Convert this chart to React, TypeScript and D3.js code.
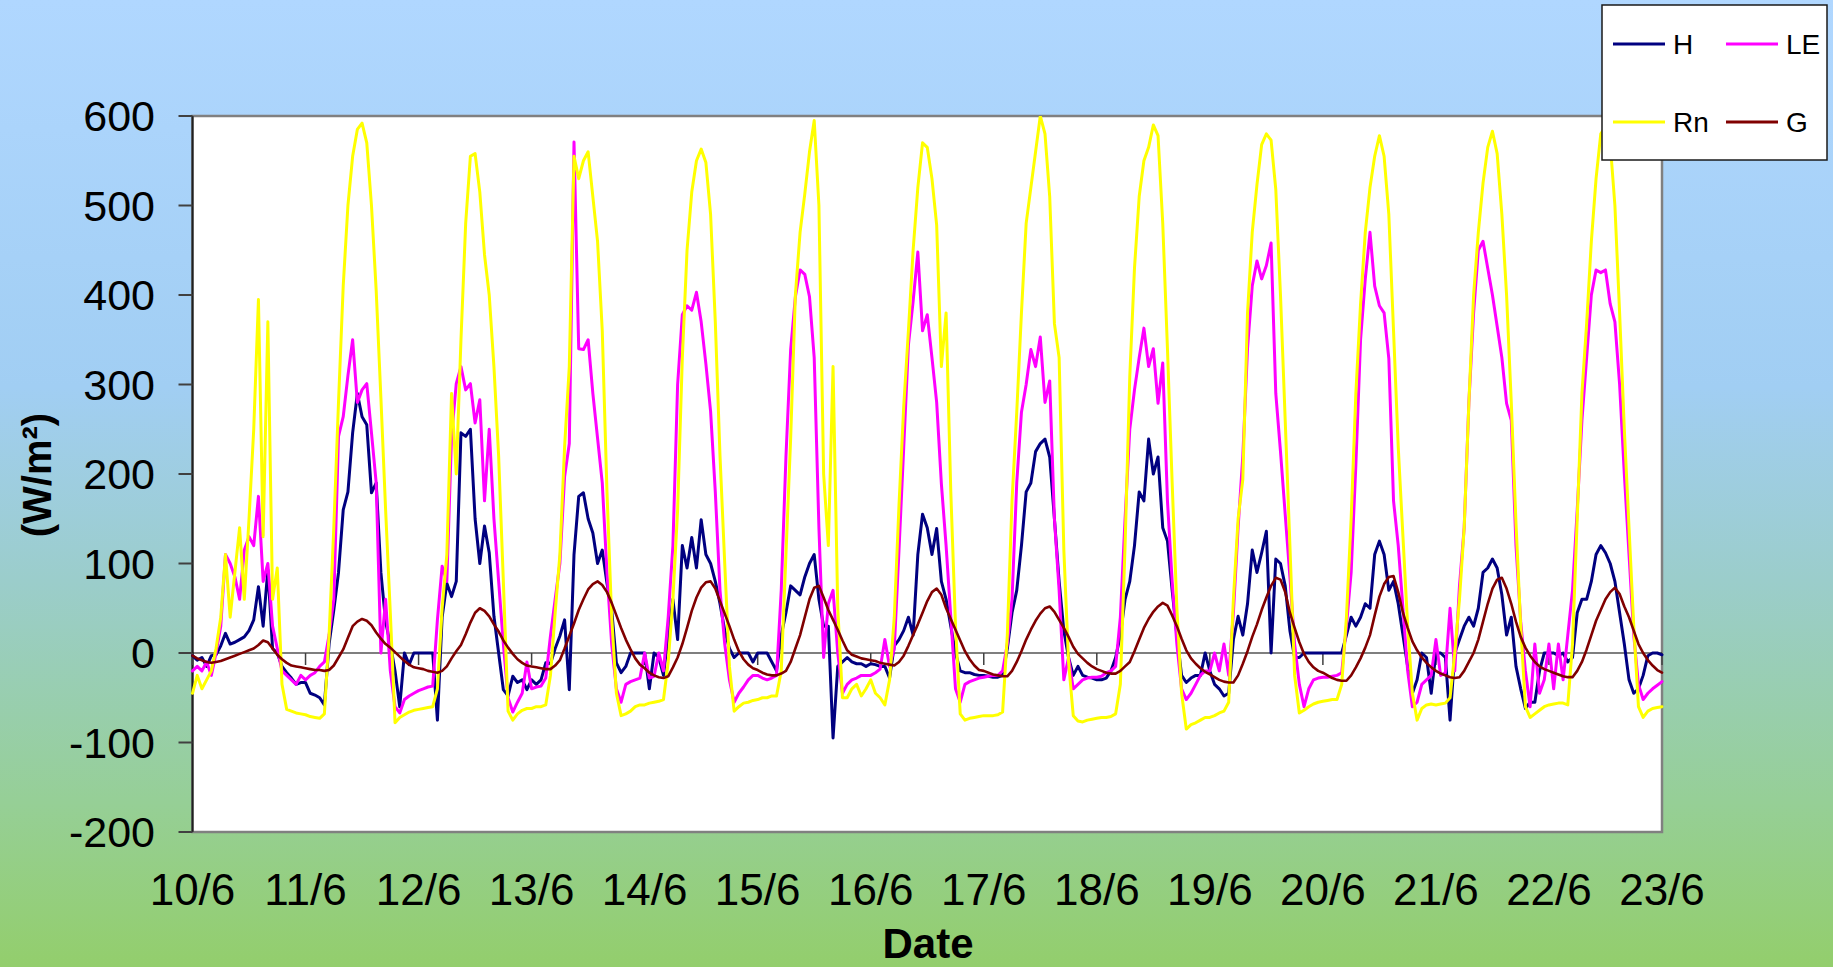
import React from "react";
import * as d3 from "d3";

// Day labels on the category axis (one per day boundary)
const DATE_LABELS = ["10/6", "11/6", "12/6", "13/6", "14/6", "15/6", "16/6", "17/6", "18/6", "19/6", "20/6", "21/6", "22/6", "23/6"];
const Y_TICKS = [-200, -100, 0, 100, 200, 300, 400, 500, 600];
const SERIES_NAMES = ["H", "LE", "Rn", "G"];

// Hourly values (W/m²), one row per day, plus the closing value at 23/6 00:00
const RN_DAYS = [
  [-45, -25, -40, -30, -20, 5, 40, 110, 40, 90, 140, 60, 150, 250, 395, 130, 370, 60, 95, -35, -63, -65, -67, -68],
  [-69, -71, -72, -73, -68, 20, 140, 280, 410, 500, 555, 585, 592, 570, 500, 405, 285, 160, 45, -78, -72, -69, -66, -64],
  [-63, -62, -61, -60, -40, 50, 110, 290, 200, 350, 480, 555, 558, 515, 445, 400, 320, 220, 80, -65, -75, -68, -64, -62],
  [-62, -60, -60, -58, -25, 45, 110, 230, 320, 555, 530, 550, 560, 510, 460, 360, 180, 40, -45, -70, -68, -65, -60, -58],
  [-58, -56, -55, -54, -52, -10, 60, 160, 330, 450, 515, 550, 563, 548, 490, 370, 220, 100, -15, -65, -60, -56, -55, -53],
  [-52, -50, -50, -48, -48, -20, 110, 240, 400, 470, 513, 560, 595, 500, 200, 120, 320, 50, -50, -50, -40, -35, -48, -40],
  [-30, -45, -50, -58, -30, 40, 165, 275, 360, 450, 520, 570, 565, 530, 478, 320, 380, 180, 30, -68, -75, -73, -72, -71],
  [-70, -70, -70, -69, -66, 20, 170, 269, 380, 480, 520, 560, 600, 580, 510, 368, 330, 115, -10, -70, -76, -77, -75, -74],
  [-73, -72, -72, -71, -68, -35, 120, 309, 430, 510, 550, 565, 590, 578, 480, 340, 190, 50, -45, -85, -80, -78, -75, -72],
  [-72, -70, -67, -65, -55, 60, 150, 194, 380, 470, 523, 568, 580, 573, 518, 400, 260, 120, -25, -67, -64, -60, -57, -55],
  [-54, -53, -52, -52, -35, 40, 150, 290, 390, 470, 520, 555, 578, 555, 490, 360, 230, 130, 30, -45, -75, -62, -58, -57],
  [-58, -57, -56, -50, 0, 60, 140, 280, 400, 470, 525, 565, 583, 558, 490, 400, 280, 145, 30, -60, -72, -68, -64, -60],
  [-58, -57, -56, -56, -58, 10, 150, 290, 368, 460, 530, 580, 588, 570, 500, 380, 250, 140, 30, -60, -72, -65, -62, -61],
];
const RN_LAST = -60;

const LE_DAYS = [
  [-20, -15, -20, -10, -25, 0, 30, 110, 100, 85, 60, 115, 130, 120, 175, 80, 100, 30, 5, -20, -25, -30, -35, -25],
  [-30, -25, -22, -15, -10, 20, 60, 242, 264, 310, 350, 280, 294, 301, 246, 190, 0, 60, -20, -60, -67, -52, -48, -45],
  [-42, -40, -38, -37, 37, 97, 80, 242, 301, 320, 294, 301, 257, 283, 170, 250, 150, 80, 10, -50, -66, -55, -45, -10],
  [-40, -38, -37, -28, 19, 60, 100, 197, 234, 571, 340, 339, 350, 290, 240, 190, 90, 10, -40, -55, -35, -32, -30, -28],
  [0, -28, -26, 0, -20, 40, 120, 300, 378, 388, 383, 403, 370, 323, 270, 180, 70, 10, -30, -55, -45, -38, -30, -25],
  [-25, -28, -30, -28, -25, 70, 219, 339, 398, 428, 423, 398, 330, 140, -5, 55, 70, 0, -45, -35, -30, -28, -25, -25],
  [-25, -22, -18, 15, -15, 5, 115, 229, 344, 393, 448, 360, 378, 330, 280, 189, 120, 40, -40, -55, -35, -32, -30, -28],
  [-27, -26, -25, -25, -20, 10, 60, 190, 269, 300, 339, 320, 353, 280, 304, 150, 70, -30, -5, -40, -35, -30, -28, -27],
  [-27, -26, -22, -20, -15, 40, 150, 250, 294, 330, 363, 320, 340, 279, 324, 170, 80, 10, -40, -52, -45, -35, -25, -20],
  [-20, 0, -20, 10, -25, 45, 140, 220, 340, 410, 438, 418, 433, 458, 290, 225, 155, 85, 10, -35, -60, -40, -30, -28],
  [-27, -27, -26, -25, -22, 30, 90, 210, 350, 418, 470, 410, 388, 380, 329, 170, 120, 50, -20, -60, -55, -35, -30, -25],
  [15, -25, -22, 50, -20, 75, 140, 280, 380, 450, 460, 430, 400, 365, 330, 279, 260, 120, 35, -20, -60, 10, -45, -30],
  [10, -40, 10, -30, 20, 70, 160, 260, 330, 400, 428, 425, 428, 390, 370, 300, 200, 110, 20, -35, -52, -45, -40, -36],
];
const LE_LAST = -32;

const H_DAYS = [
  [-3, -8, -5, -15, -3, -2, 8, 22, 10, 12, 15, 18, 25, 37, 74, 30, 93, 5, 0, -15, -22, -28, -35, -33],
  [-33, -45, -47, -50, -58, 10, 48, 90, 160, 180, 246, 290, 264, 255, 179, 190, 90, 35, 10, -20, -60, 0, -13, 0],
  [0, 0, 0, 0, -75, 40, 78, 63, 80, 246, 242, 250, 150, 100, 142, 112, 41, 0, -41, -48, -26, -33, -30, -41],
  [-30, -35, -30, -11, -12, 5, 19, 37, -41, 110, 175, 179, 150, 134, 100, 115, 78, 48, -11, -22, -15, 0, 0, 0],
  [0, -40, 0, -5, -25, 20, 60, 15, 120, 95, 129, 95, 149, 110, 100, 80, 55, 25, 5, -5, 0, 0, 0, -10],
  [0, 0, 0, -10, -20, 20, 45, 75, 70, 65, 85, 100, 110, 60, 30, 30, -95, -15, -10, -5, -10, -12, -12, -15],
  [-12, -13, -15, -15, -28, 8, 15, 25, 40, 20, 110, 155, 140, 110, 139, 80, 60, 30, 0, -20, -22, -22, -24, -25],
  [-25, -26, -27, -27, -25, 5, 45, 70, 120, 180, 190, 225, 234, 239, 219, 150, 80, 25, -5, -25, -15, -25, -27, -28],
  [-30, -30, -28, -20, -5, 20, 60, 80, 120, 180, 170, 239, 200, 219, 140, 125, 70, 20, -25, -33, -28, -25, -25, 0],
  [-20, -35, -40, -48, -45, 15, 41, 20, 55, 115, 90, 112, 136, 0, 105, 100, 75, 25, -5, -5, 0, 0, 0, 0],
  [0, 0, 0, 0, 0, 20, 40, 30, 40, 55, 50, 110, 125, 110, 70, 80, 55, 20, -15, -45, -30, 0, -5, -45],
  [0, 0, -5, -75, 0, 15, 30, 40, 30, 50, 90, 95, 105, 95, 65, 20, 40, -15, -40, -62, -55, -55, -20, 0],
  [0, 0, -3, 0, -10, -5, 45, 60, 60, 80, 110, 120, 112, 100, 80, 45, 10, -30, -45, -40, -25, -3, 0, 0],
];
const H_LAST = -2;

const G_DAYS = [
  [-3, -6, -8, -10, -11, -10, -9, -7, -5, -3, -1, 1, 3, 5, 9, 14, 12, 5, -2, -7, -11, -14, -15, -16],
  [-17, -18, -19, -19, -20, -19, -14, -5, 4, 17, 30, 35, 38, 36, 31, 23, 16, 10, 6, 1, -4, -9, -13, -16],
  [-17, -18, -20, -21, -22, -20, -15, -6, 2, 9, 21, 34, 45, 50, 47, 41, 32, 24, 14, 6, -1, -7, -11, -14],
  [-15, -16, -17, -18, -18, -14, -8, 5, 19, 33, 48, 60, 71, 77, 80, 76, 68, 56, 42, 28, 15, 4, -6, -13],
  [-17, -22, -25, -27, -28, -26, -16, -5, 10, 28, 47, 62, 73, 79, 80, 72, 58, 44, 30, 15, 2, -7, -13, -17],
  [-19, -22, -24, -25, -25, -23, -20, -10, 5, 20, 40, 60, 73, 75, 62, 48, 37, 26, 14, 3, -2, -4, -6, -7],
  [-8, -9, -11, -12, -13, -14, -10, -3, 8, 20, 32, 45, 58, 68, 72, 65, 50, 38, 26, 14, 2, -7, -14, -19],
  [-20, -22, -24, -25, -26, -26, -20, -10, 2, 15, 26, 36, 44, 50, 52, 46, 37, 28, 18, 7, -1, -6, -11, -15],
  [-18, -20, -22, -23, -23, -20, -15, -10, 2, 15, 28, 38, 46, 52, 56, 53, 42, 30, 16, 3, -6, -12, -17, -21],
  [-24, -27, -30, -32, -33, -33, -25, -12, 2, 18, 32, 48, 62, 75, 84, 82, 68, 45, 28, 12, -1, -10, -16, -20],
  [-22, -25, -28, -30, -31, -31, -25, -16, -6, 6, 20, 42, 63, 77, 85, 86, 68, 45, 28, 13, 3, -5, -11, -16],
  [-20, -23, -25, -27, -28, -27, -20, -10, 0, 15, 35, 55, 72, 82, 84, 72, 55, 35, 18, 6, -3, -10, -15, -18],
  [-20, -22, -24, -26, -27, -27, -20, -10, 4, 20, 36, 48, 60, 68, 73, 66, 52, 40, 25, 10, 0, -8, -14, -19],
];
const G_LAST = -22;

const HOURS_PER_DAY = 24;

const W = 1833;
const HGT = 967;
const PLOT = { left: 192.5, right: 1662, top: 116, bottom: 832 };
const FONT = "'Liberation Sans', Arial, Helvetica, sans-serif";
const COLORS: Record<string, string> = { H: "#000080", LE: "#FF00FF", Rn: "#FFFF00", G: "#800000" };

export default function App() {
  const series: Record<string, number[]> = {
    H: [...H_DAYS.flat(), H_LAST],
    LE: [...LE_DAYS.flat(), LE_LAST],
    Rn: [...RN_DAYS.flat(), RN_LAST],
    G: [...G_DAYS.flat(), G_LAST],
  };
  const nHours = (DATE_LABELS.length - 1) * HOURS_PER_DAY;

  const x = d3.scaleLinear().domain([0, nHours]).range([PLOT.left, PLOT.right]);
  const y = d3.scaleLinear().domain([-200, 600]).range([PLOT.bottom, PLOT.top]);
  const line = d3
    .line<number>()
    .x((_, i) => x(i))
    .y((v) => y(v));

  const legendX = 1602;
  const legendY = 5;
  const legendItems = [
    { name: SERIES_NAMES[0], lx: 1613, ly: 44 },
    { name: SERIES_NAMES[1], lx: 1726, ly: 44 },
    { name: SERIES_NAMES[2], lx: 1613, ly: 122 },
    { name: SERIES_NAMES[3], lx: 1726, ly: 122 },
  ];

  return (
    <svg
      width={W}
      height={HGT}
      viewBox={`0 0 ${W} ${HGT}`}
      style={{ position: "fixed", left: 0, top: 0, display: "block" }}
      fontFamily={FONT}
    >
      <defs>
        <linearGradient id="bg" x1="0" y1="0" x2="0" y2="1">
          <stop offset="0%" stopColor="#B0D7FF" />
          <stop offset="40%" stopColor="#A1CEF3" />
          <stop offset="60%" stopColor="#9BCDCB" />
          <stop offset="83%" stopColor="#96CF96" />
          <stop offset="100%" stopColor="#93CE6C" />
        </linearGradient>
        <clipPath id="plotClip">
          <rect x={PLOT.left - 8} y={PLOT.top} width={PLOT.right - PLOT.left + 10} height={PLOT.bottom - PLOT.top} />
        </clipPath>
      </defs>
      <rect x={0} y={0} width={W} height={HGT} fill="url(#bg)" />

      {/* plot area */}
      <rect
        x={PLOT.left}
        y={PLOT.top}
        width={PLOT.right - PLOT.left}
        height={PLOT.bottom - PLOT.top}
        fill="#FFFFFF"
        stroke="#808080"
        strokeWidth={2.5}
      />

      {/* y axis */}
      <line x1={PLOT.left} x2={PLOT.left} y1={PLOT.top} y2={PLOT.bottom} stroke="#202020" strokeWidth={2} />
      {Y_TICKS.map((t) => (
        <g key={t}>
          <line x1={PLOT.left - 14} x2={PLOT.left} y1={y(t)} y2={y(t)} stroke="#404040" strokeWidth={2} />
          <text x={155} y={y(t) + 15} textAnchor="end" fontSize={43} fill="#000">
            {t}
          </text>
        </g>
      ))}

      {/* zero line with day ticks */}
      <line x1={PLOT.left} x2={PLOT.right} y1={y(0)} y2={y(0)} stroke="#000" strokeWidth={1.2} />
      {DATE_LABELS.map((d, i) => (
        <line
          key={"tk" + d}
          x1={x(i * HOURS_PER_DAY)}
          x2={x(i * HOURS_PER_DAY)}
          y1={y(0)}
          y2={y(0) + 12}
          stroke="#404040"
          strokeWidth={1.5}
        />
      ))}

      {/* series */}
      <g clipPath="url(#plotClip)" fill="none" strokeLinejoin="round" strokeLinecap="round">
        {SERIES_NAMES.map((name) => (
          <path
            key={name}
            d={line(series[name]) || ""}
            stroke={COLORS[name]}
            strokeWidth={name === "G" ? 2.6 : 3}
          />
        ))}
      </g>

      {/* x labels */}
      {DATE_LABELS.map((d, i) => (
        <text key={"xl" + d} x={x(i * HOURS_PER_DAY)} y={905} textAnchor="middle" fontSize={44} fill="#000">
          {d}
        </text>
      ))}

      {/* axis titles */}
      <text x={928} y={958} textAnchor="middle" fontSize={42} fontWeight="bold" fill="#000">
        Date
      </text>
      <text
        transform={`translate(51, 475) rotate(-90)`}
        textAnchor="middle"
        fontSize={40}
        fontWeight="bold"
        fill="#000"
      >
        (W/m²)
      </text>

      {/* legend */}
      <rect x={legendX} y={legendY} width={225} height={155} fill="#FFFFFF" stroke="#1a1a1a" strokeWidth={1.5} />
      {legendItems.map((it) => (
        <g key={"lg" + it.name}>
          <line x1={it.lx} x2={it.lx + 52} y1={it.ly} y2={it.ly} stroke={COLORS[it.name]} strokeWidth={3} />
          <text x={it.lx + 60} y={it.ly + 10} fontSize={28} fill="#000">
            {it.name}
          </text>
        </g>
      ))}
    </svg>
  );
}
